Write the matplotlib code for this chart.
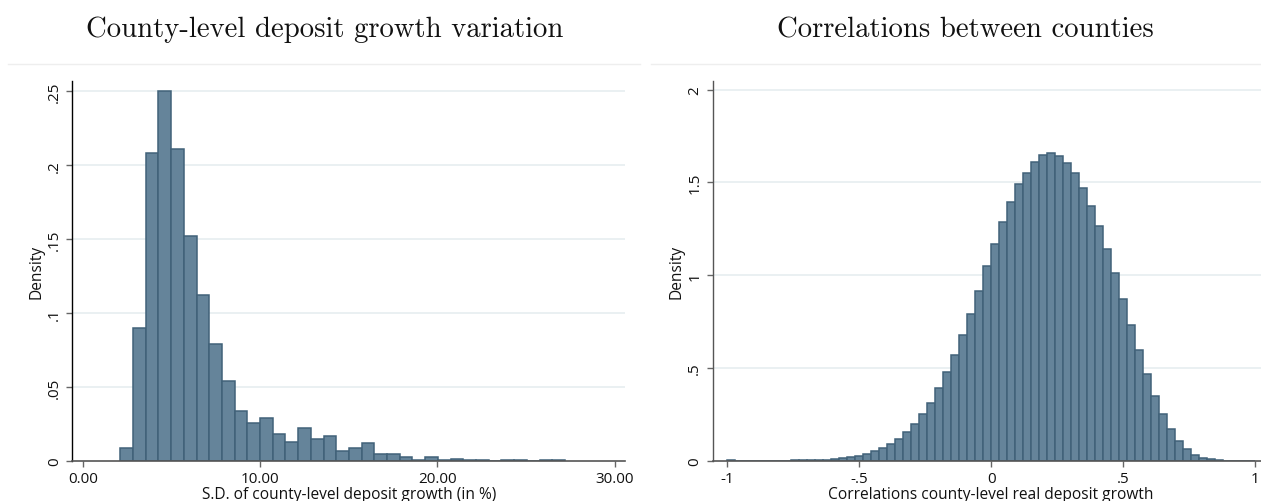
import numpy as np
import matplotlib
matplotlib.use("Agg")
import matplotlib.pyplot as plt
from matplotlib.lines import Line2D

# ---------------- data ----------------
# Left: S.D. of county-level deposit growth (in %), 35 bins
sd_bin_start = 2.12
sd_bin_width = 0.7166
sd_density = [0.009, 0.090, 0.208, 0.250, 0.211, 0.152, 0.112, 0.079, 0.054,
              0.034, 0.026, 0.029, 0.018, 0.013, 0.022, 0.015, 0.017, 0.007,
              0.009, 0.012, 0.0045, 0.005, 0.003, 0.001, 0.003, 0.001, 0.0016,
              0.0005, 0.0005, 0.0, 0.0005, 0.0005, 0.0, 0.0005, 0.0007]
sd_xticks = [0, 10, 20, 30]
sd_xticklabels = ["0.00", "10.00", "20.00", "30.00"]
sd_yticks = [0, 0.05, 0.10, 0.15, 0.20, 0.25]
sd_yticklabels = ["0", ".05", ".1", ".15", ".2", ".25"]

# Right: correlations between counties, 66 bins from -1 to 1
corr_bin_start = -1.0
corr_bin_width = 2.0 / 66
corr_density = [0.008, 0.002, 0.002, 0.002, 0.002, 0.002, 0.002, 0.002,
                0.003, 0.003, 0.004, 0.005, 0.007, 0.011, 0.014, 0.023,
                0.029, 0.040, 0.056, 0.070, 0.092, 0.121, 0.157, 0.201,
                0.255, 0.314, 0.391, 0.477, 0.573, 0.681, 0.791, 0.915,
                1.049, 1.168, 1.287, 1.396, 1.492, 1.553, 1.611, 1.649,
                1.659, 1.643, 1.607, 1.553, 1.470, 1.373, 1.265, 1.142,
                1.011, 0.870, 0.732, 0.596, 0.467, 0.351, 0.254, 0.173,
                0.110, 0.066, 0.034, 0.018, 0.009, 0.004, 0.002, 0.001,
                0.001, 0.001]
corr_xticks = [-1, -0.5, 0, 0.5, 1]
corr_xticklabels = ["-1", "-.5", "0", ".5", "1"]
corr_yticks = [0, 0.5, 1.0, 1.5, 2.0]
corr_yticklabels = ["0", ".5", "1", "1.5", "2"]

titles = ["County-level deposit growth variation", "Correlations between counties"]
xlabels = ["S.D. of county-level deposit growth (in %)",
           "Correlations county-level real deposit growth"]
ylabel = "Density"

# ---------------- style ----------------
W, H = 1261, 502
fig = plt.figure(figsize=(W / 100, H / 100), dpi=100)
plt.rcParams['font.family'] = ['Open Sans', 'DejaVu Sans']

FILL = "#65849a"
EDGE = "#416279"
GRID = "#e8eff1"


def px_axes(x0, x1, ytop, ybot):
    return fig.add_axes([x0 / W, 1 - ybot / H, (x1 - x0) / W, (ybot - ytop) / H])


def style(ax, spine_color, xticks, xtl, yticks, ytl, xlim, ylim, xlabel):
    ax.set_xlim(*xlim)
    ax.set_ylim(*ylim)
    for s in ["top", "right"]:
        ax.spines[s].set_visible(False)
    ax.spines["left"].set_color(spine_color)
    ax.spines["left"].set_linewidth(1.0)
    ax.spines["bottom"].set_color("#555555")
    ax.spines["bottom"].set_linewidth(1.2)
    ax.set_xticks(xticks)
    ax.set_xticklabels(xtl, fontsize=11)
    ax.set_yticks(yticks)
    ax.set_yticklabels(ytl, fontsize=11, rotation=90, va="center")
    ax.tick_params(axis="both", direction="out", length=4.5, width=1.0,
                   color="#666666", labelcolor="#111111", pad=3)
    for t in yticks[1:]:
        ax.axhline(t, color=GRID, linewidth=1.3, zorder=0)
    ax.set_xlabel(xlabel, fontsize=11.2, labelpad=0, color="#111111")
    ax.set_ylabel(ylabel, fontsize=11.2, labelpad=2, color="#111111")
    ax.set_axisbelow(True)


# Left panel
ax1 = px_axes(72.3, 625, 82, 462)
edges1 = sd_bin_start + sd_bin_width * np.arange(len(sd_density))
ax1.bar(edges1, sd_density, width=sd_bin_width, align="edge", color=FILL,
        edgecolor=EDGE, linewidth=1.1, zorder=2)
style(ax1, "#000000", sd_xticks, sd_xticklabels, sd_yticks, sd_yticklabels,
      (-0.59, 30.59), (0, 0.257), xlabels[0])

# Right panel
ax2 = px_axes(712.7, 1269.5, 82, 462)
edges2 = corr_bin_start + corr_bin_width * np.arange(len(corr_density))
ax2.bar(edges2, corr_density, width=corr_bin_width, align="edge", color=FILL,
        edgecolor=EDGE, linewidth=1.1, zorder=2)
style(ax2, "#555555", corr_xticks, corr_xticklabels, corr_yticks, corr_yticklabels,
      (-1.055, 1.055), (0, 2.046), xlabels[1])

# Titles (LaTeX-like serif)
for xc, t in zip([325, 965], titles):
    fig.text(xc / W, 1 - 37 / H, t, ha="center", va="baseline",
             fontsize=20.7, family="cmr10", color="#111111")

# faint graph-region borders under titles
fig.add_artist(Line2D([8 / W, 640 / W], [1 - 65 / H] * 2, color="#eeeeee", lw=1))
fig.add_artist(Line2D([651 / W, 1.0], [1 - 65 / H] * 2, color="#eeeeee", lw=1))

fig.savefig("out.png", dpi=100, facecolor="white")
